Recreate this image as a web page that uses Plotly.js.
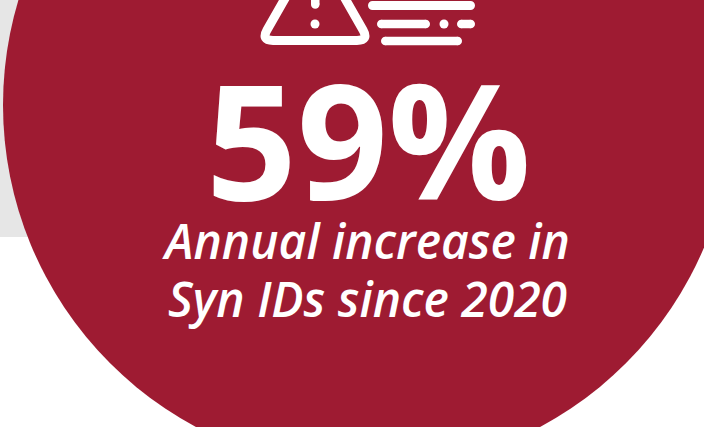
<!DOCTYPE html>
<html>
<head>
<meta charset="utf-8">
<script src="https://cdn.plot.ly/plotly-3.0.1.min.js"></script>
<style>html,body{margin:0;padding:0;background:#fff;overflow:hidden}#chart{width:704px;height:427px}</style>
</head>
<body>
<div id="chart"></div>
<script>
// Headline figure and its caption
const headlineValue = 59;
const captionLines = ["Annual increase in", "Syn IDs since 2020"];

const crimson = "#9e1b32";
const panelGrey = "#e6e6e6";
const white = "#ffffff";

function dot(cx, cy, r) {
  return {type: "circle", x0: cx - r, x1: cx + r, y0: cy - r, y1: cy + r,
          fillcolor: white, line: {width: 0}};
}
// A rounded bar: a rectangle capped with a circle at each end
function pill(x0, x1, y, h) {
  const r = h / 2;
  return [
    {type: "rect", x0: x0 + r, x1: x1 - r, y0: y - r, y1: y + r, fillcolor: white, line: {width: 0}},
    dot(x0 + r, y, r),
    dot(x1 - r, y, r)
  ];
}

const backdrop = [
  {type: "rect", x0: 0, x1: 704, y0: 0, y1: 237, fillcolor: panelGrey, line: {width: 0}},
  {type: "circle", x0: 3, x1: 733, y0: -260, y1: 470, fillcolor: crimson, line: {width: 0}}
];

const icon = [
  {type: "path", path: "M315,-54 L267,30 Q261,40.5 273,40.5 L357,40.5 Q369,40.5 363,30 Z",
   fillcolor: "rgba(0,0,0,0)", line: {color: white, width: 9}},
  {type: "rect", x0: 311, x1: 319.5, y0: -10, y1: 4.5, fillcolor: white, line: {width: 0}},
  dot(315.25, 4.5, 4.25),
  dot(315, 24, 4.5),
  ...pill(368, 475, 5.5, 9),
  ...pill(377, 430, 24, 8.5),
  dot(444, 24, 4.5),
  ...pill(457, 475, 24, 8.5),
  ...pill(381, 462, 41, 8.5)
];

const labels = [
  {x: 368.5, y: 138, text: `${headlineValue}%`, font: {size: 159, weight: 700, color: white}},
  {x: 366, y: 240, text: captionLines[0], font: {size: 48, weight: 600, style: "italic", color: white}},
  {x: 367, y: 298, text: captionLines[1], font: {size: 48, weight: 600, style: "italic", color: white}}
].map(a => ({...a, xref: "x", yref: "y", showarrow: false, xanchor: "center", yanchor: "middle",
             font: {...a.font, family: "'Open Sans', sans-serif"}}));

const layout = {
  width: 704, height: 427,
  margin: {l: 0, r: 0, t: 0, b: 0},
  paper_bgcolor: white, plot_bgcolor: white,
  xaxis: {range: [0, 704], visible: false, fixedrange: true},
  yaxis: {range: [427, 0], visible: false, fixedrange: true},
  shapes: backdrop.concat(icon).map(s => ({...s, layer: "below"})),
  annotations: labels,
  showlegend: false
};

Plotly.newPlot("chart", [{x: [], y: [], type: "scatter", hoverinfo: "skip"}], layout, {displayModeBar: false, staticPlot: true});
</script>
</body>
</html>
